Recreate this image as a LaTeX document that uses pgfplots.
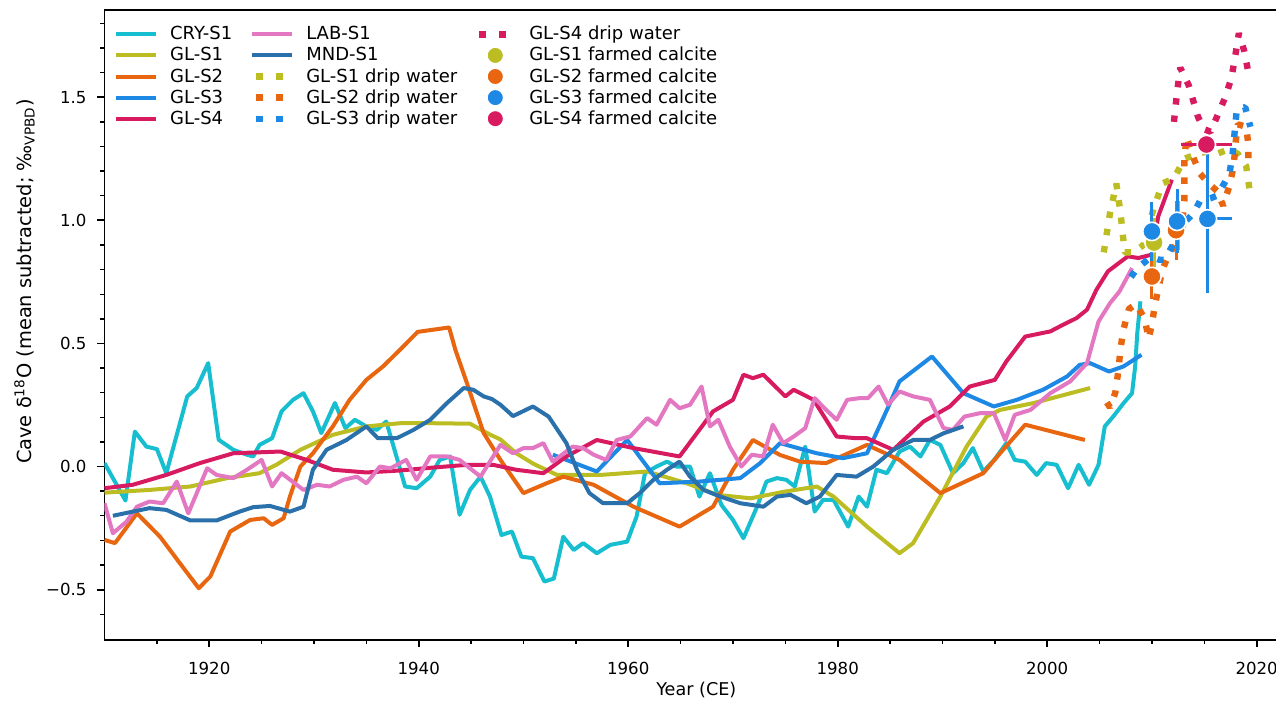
\documentclass[border=0pt]{standalone}
\usepackage{fontspec}
\setmainfont{DejaVu Sans}
\usepackage{pgfplots}
\pgfplotsset{compat=1.18}
\definecolor{cry}{RGB}{23,190,207}
\definecolor{gla}{RGB}{188,189,34}
\definecolor{glb}{RGB}{232,102,16}
\definecolor{glc}{RGB}{30,136,229}
\definecolor{gld}{RGB}{216,27,96}
\definecolor{lab}{RGB}{227,119,194}
\definecolor{mnd}{RGB}{42,112,170}
\newcommand{\ff}{\fontsize{8.3}{10}\selectfont}
\newcommand{\lf}{\fontsize{9}{10}\selectfont}
\pgfplotsset{
  mylineleg/.style={legend image code/.code={\path[draw=none,fill=none] (0pt,-3pt) rectangle (27pt,3pt); \draw[#1] (0pt,0pt) -- (20pt,0pt);}},
  mydripleg/.style={legend image code/.code={\path[draw=none,fill=none] (0pt,-3pt) rectangle (27pt,3pt); \draw[#1, solid] (2pt,0pt) -- (5.2pt,0pt); \draw[#1, solid] (12pt,0pt) -- (15.2pt,0pt);}},
  mycalcleg/.style={legend image code/.code={\path[draw=none,fill=none] (0pt,-3pt) rectangle (27pt,3pt); \draw[#1, mark size=4.2pt] plot coordinates {(10pt,0pt)};}},
}
\begin{document}
\begin{tikzpicture}
\begin{axis}[
  name=ax, at={(0,0)}, anchor=south west,
  scale only axis, width=591.8pt, height=314.9pt,
  xmin=1910, xmax=2023, ymin=-0.7045, ymax=1.8537,
  tick pos=left, tick align=outside,
  axis line style={line width=0.9pt},
  major tick length=3.5pt, minor tick length=2pt,
  major tick style={line width=0.9pt, black},
  minor tick style={line width=0.7pt, black},
  xtick={1920,1940,1960,1980,2000,2020},
  xticklabels={1920,1940,1960,1980,2000,2020},
  minor xtick={1915,1920,...,2020},
  ytick={-0.5,0,0.5,1,1.5},
  yticklabels={−0.5,0.0,0.5,1.0,1.5},
  minor ytick={-0.6,-0.5,-0.4,-0.3,-0.2,-0.1,0,0.1,0.2,0.3,0.4,0.5,0.6,0.7,0.8,0.9,1.0,1.1,1.2,1.3,1.4,1.5,1.6,1.7,1.8},
  tick label style={font=\ff},
  xticklabel style={yshift=-4pt},
  yticklabel style={xshift=-2pt},
  xlabel={Year (CE)},
  ylabel={Cave δ\textsuperscript{18}O (mean subtracted; ‰\textsubscript{VPBD})},
  xlabel style={at={(axis description cs:0.5,-0.0794)}, anchor=center, font=\fontsize{8.8}{10}\selectfont},
  ylabel style={at={(axis description cs:-0.0676,0.569)}, anchor=center, font=\fontsize{9.7}{11}\selectfont},
  legend columns=5, transpose legend,
  legend cell align=left,
  legend style={draw=none, fill=none, font=\lf, inner xsep=0pt, inner ysep=0pt,
    nodes={inner sep=0pt, text depth=0.25em, text height=0.8em},
    at={(axis description cs:0.0078,0.979)}, anchor=north west,
    row sep=0.05pt,
    /tikz/every even column/.append style={column sep=9pt},
    /tikz/column 2/.append style={column sep=12pt},
    /tikz/column 4/.append style={column sep=19.5pt}},
]
% ---------- stalagmite records ----------
\addplot[cry, line width=2pt, line join=round, mylineleg] coordinates {
(1910.0,0.014)(1912.0,-0.138)(1912.9,0.142)(1914.0,0.081)(1915.0,0.071)(1915.9,-0.027)(1917.9,0.285)(1918.8,0.319)(1919.9,0.42)(1920.9,0.109)(1922.3,0.068)(1923.6,0.048)(1924.2,0.041)(1924.8,0.088)(1926.0,0.115)(1926.9,0.224)(1928.0,0.271)(1929.0,0.298)(1929.9,0.224)(1930.7,0.136)(1932.0,0.258)(1933.0,0.156)(1933.9,0.19)(1935.0,0.163)(1936.0,0.149)(1936.9,0.183)(1937.6,0.081)(1938.7,-0.081)(1939.8,-0.088)(1941.1,-0.041)(1942.0,0.027)(1943.0,0.041)(1943.9,-0.196)(1944.9,-0.095)(1945.9,-0.041)(1946.8,-0.122)(1947.9,-0.278)(1948.9,-0.264)(1949.8,-0.366)(1950.9,-0.372)(1952.0,-0.467)(1952.9,-0.455)(1953.8,-0.285)(1954.8,-0.339)(1955.7,-0.311)(1957.0,-0.352)(1958.3,-0.318)(1959.9,-0.305)(1960.8,-0.203)(1961.6,-0.027)(1962.7,0.0)(1963.7,0.02)(1964.6,0.0)(1965.9,0.0)(1966.8,-0.122)(1967.8,-0.027)(1968.9,-0.156)(1970.0,-0.217)(1971.0,-0.291)(1972.3,-0.163)(1973.2,-0.061)(1974.2,-0.047)(1975.1,-0.054)(1975.9,-0.081)(1976.9,0.081)(1977.8,-0.183)(1978.6,-0.135)(1979.6,-0.135)(1981.0,-0.244)(1982.0,-0.122)(1982.8,-0.163)(1983.7,-0.013)(1984.7,-0.027)(1985.9,0.061)(1986.9,0.081)(1987.9,0.041)(1988.8,0.108)(1989.8,0.088)(1991.0,-0.027)(1992.0,0.014)(1992.9,0.075)(1993.9,-0.02)(1995.0,0.03)(1996.1,0.095)(1996.9,0.027)(1997.9,0.02)(1999.0,-0.034)(1999.9,0.014)(2000.9,0.007)(2002.0,-0.088)(2003.0,0.007)(2004.0,-0.074)(2004.9,0.007)(2005.5,0.163)(2006.3,0.203)(2007.3,0.258)(2008.1,0.298)(2008.4,0.407)(2008.6,0.542)(2008.9,0.671)
};
\addlegendentry{CRY-S1}
\addplot[gla, line width=2pt, line join=round, mylineleg] coordinates {
(1910,-0.106)(1914.3,-0.095)(1918.2,-0.081)(1921.7,-0.047)(1924.8,-0.027)(1926.4,0.007)(1928.7,0.068)(1931.8,0.129)(1935.0,0.163)(1938.2,0.176)(1941.4,0.176)(1944.9,0.174)(1946.8,0.13)(1947.8,0.11)(1949.3,0.054)(1951.0,0.01)(1953.2,-0.034)(1957.4,-0.034)(1961.8,-0.02)(1965.6,-0.068)(1968.5,-0.115)(1971.7,-0.129)(1974.9,-0.102)(1978.0,-0.081)(1979.6,-0.122)(1982.8,-0.244)(1985.9,-0.352)(1987.2,-0.311)(1989.8,-0.122)(1992.3,0.081)(1994.2,0.203)(1995.5,0.23)(1998.7,0.258)(2004.1,0.319)
};
\addlegendentry{GL-S1}
\addplot[glb, line width=2pt, line join=round, mylineleg] coordinates {
(1910,-0.298)(1911,-0.311)(1913.1,-0.19)(1915.3,-0.285)(1917.2,-0.393)(1919.0,-0.494)(1920.1,-0.447)(1922.0,-0.264)(1923.9,-0.217)(1925.2,-0.21)(1926.0,-0.237)(1927.1,-0.21)(1927.7,-0.122)(1928.7,0.0)(1929.9,0.054)(1931.8,0.163)(1933.4,0.271)(1935.0,0.352)(1936.6,0.407)(1938.2,0.474)(1939.9,0.547)(1942.9,0.565)(1943.5,0.474)(1944.6,0.339)(1946.2,0.136)(1947.8,0.027)(1950.0,-0.108)(1952.2,-0.068)(1953.8,-0.041)(1956.7,-0.074)(1960.5,-0.163)(1964.9,-0.244)(1968.1,-0.163)(1970.0,-0.013)(1971.9,0.108)(1974.5,0.047)(1976.4,0.02)(1978.9,0.014)(1982.8,0.088)(1985.9,0.027)(1989.8,-0.108)(1993.9,-0.027)(1995.5,0.054)(1997.9,0.17)(2003.6,0.108)
};
\addlegendentry{GL-S2}
\addplot[glc, line width=2pt, line join=round, mylineleg] coordinates {
(1952.8,0.048)(1954.1,0.027)(1957.0,-0.02)(1959.9,0.108)(1963.0,-0.068)(1966.8,-0.061)(1970.7,-0.047)(1972.6,0.014)(1974.5,0.095)(1978.0,0.054)(1980.5,0.034)(1982.8,0.054)(1984.7,0.23)(1985.9,0.346)(1989.0,0.447)(1992.0,0.298)(1994.9,0.244)(1997.1,0.271)(1999.6,0.312)(2001.9,0.366)(2003.1,0.413)(2004.1,0.42)(2005.9,0.386)(2007.3,0.407)(2009.0,0.454)
};
\addlegendentry{GL-S3}
\addplot[gld, line width=2pt, line join=round, mylineleg] coordinates {
(1910,-0.088)(1912.7,-0.074)(1915.9,-0.034)(1919.1,0.014)(1922.3,0.054)(1926.8,0.061)(1929.3,0.027)(1931.8,-0.013)(1935.0,-0.024)(1938.2,-0.016)(1941.4,-0.004)(1944.6,0.007)(1947.1,0.007)(1949.3,-0.013)(1951.9,-0.027)(1954.1,0.041)(1957.0,0.108)(1960.5,0.075)(1964.9,0.041)(1968.1,0.224)(1970.0,0.271)(1971.0,0.373)(1971.9,0.359)(1972.9,0.373)(1975.0,0.285)(1975.8,0.312)(1977.7,0.271)(1979.9,0.122)(1981.8,0.115)(1982.8,0.115)(1985.3,0.068)(1988.2,0.183)(1990.7,0.244)(1992.6,0.325)(1995.0,0.352)(1996.1,0.427)(1997.9,0.528)(2000.3,0.549)(2001.2,0.569)(2002.8,0.603)(2003.8,0.637)(2004.7,0.718)(2005.8,0.793)(2007.7,0.854)(2008.7,0.847)(2010.0,0.861)(2010.6,1.016)(2011.9,1.165)
};
\addlegendentry{GL-S4}
\addplot[lab, line width=2pt, line join=round, mylineleg] coordinates {
(1910,-0.149)(1910.8,-0.271)(1912.1,-0.224)(1913.1,-0.163)(1914.3,-0.142)(1915.6,-0.149)(1916.9,-0.061)(1918.0,-0.19)(1919.8,-0.007)(1920.7,-0.034)(1922.3,-0.047)(1923.6,-0.013)(1925.0,0.027)(1926.0,-0.081)(1926.9,-0.027)(1929.0,-0.095)(1930.3,-0.074)(1931.5,-0.081)(1932.8,-0.054)(1934.1,-0.041)(1935.0,-0.068)(1936.3,0.0)(1937.3,-0.007)(1938.8,0.027)(1939.8,-0.054)(1941.1,0.041)(1942.7,0.041)(1943.9,0.027)(1945.9,-0.041)(1947.8,0.088)(1949.0,0.054)(1950.0,0.075)(1950.9,0.075)(1951.9,0.095)(1952.8,0.02)(1954.7,0.081)(1955.7,0.075)(1956.7,0.048)(1957.9,0.027)(1958.9,0.108)(1960.2,0.122)(1961.8,0.197)(1962.7,0.17)(1964.0,0.271)(1964.9,0.237)(1965.9,0.251)(1967.0,0.325)(1967.8,0.163)(1968.6,0.19)(1969.7,0.081)(1970.8,0.0)(1971.8,0.048)(1972.9,0.041)(1973.8,0.17)(1974.8,0.095)(1975.8,0.122)(1976.9,0.156)(1977.8,0.278)(1978.9,0.23)(1979.9,0.19)(1980.9,0.271)(1982.1,0.278)(1982.9,0.278)(1983.9,0.325)(1984.8,0.251)(1985.9,0.305)(1987.2,0.285)(1988.8,0.271)(1990.1,0.156)(1991.0,0.149)(1992.1,0.203)(1993.6,0.217)(1994.9,0.217)(1996.0,0.108)(1996.9,0.21)(1998.4,0.23)(2000.3,0.298)(2002.2,0.346)(2003.8,0.42)(2004.9,0.589)(2006.0,0.664)(2006.9,0.711)(2008.1,0.806)
};
\addlegendentry{LAB-S1}
\addplot[mnd, line width=2pt, line join=round, mylineleg] coordinates {
(1910.8,-0.2)(1912.7,-0.183)(1914.3,-0.169)(1915.9,-0.176)(1918.2,-0.219)(1920.7,-0.219)(1922.9,-0.183)(1924.2,-0.165)(1925.8,-0.16)(1927.7,-0.183)(1929.0,-0.163)(1929.9,-0.013)(1931.2,0.068)(1933.1,0.108)(1935.0,0.163)(1936.1,0.115)(1937.9,0.115)(1939.5,0.149)(1941.1,0.19)(1942.7,0.258)(1944.3,0.319)(1945.2,0.312)(1946.2,0.285)(1947.0,0.274)(1947.8,0.251)(1949.0,0.205)(1950.9,0.244)(1952.4,0.203)(1954.1,0.095)(1955.1,-0.013)(1956.3,-0.108)(1957.6,-0.149)(1959.9,-0.149)(1961.1,-0.108)(1962.4,-0.054)(1963.7,-0.013)(1964.9,0.02)(1965.9,-0.041)(1967.2,-0.095)(1968.8,-0.122)(1970.7,-0.149)(1972.9,-0.163)(1974.2,-0.122)(1975.5,-0.115)(1977.0,-0.149)(1978.3,-0.122)(1979.9,-0.034)(1981.8,-0.041)(1983.4,0.0)(1985.3,0.068)(1987.2,0.108)(1988.8,0.108)(1990.1,0.135)(1992.0,0.163)
};
\addlegendentry{MND-S1}
% ---------- drip water ----------
\addplot[gla, line width=3.2pt, line cap=butt, line join=bevel, dash pattern=on 3.2pt off 5.5pt, mydripleg] coordinates {
(2005.4,0.87)(2006.0,1.03)(2006.6,1.15)(2007.0,1.03)(2007.4,0.87)(2008.2,0.87)(2009.2,0.9)(2010.1,1.04)(2011.0,1.15)(2012.1,1.17)(2013.1,1.25)(2014.3,1.27)(2015.3,1.28)(2016.2,1.27)(2017.4,1.29)(2018.2,1.27)(2019.0,1.22)(2019.4,1.10)
};
\addlegendentry{GL-S1 drip water}
\addplot[glb, line width=3.2pt, line cap=butt, line join=bevel, dash pattern=on 3.2pt off 5.5pt, mydripleg] coordinates {
(2005.7,0.26)(2006.0,0.24)(2006.5,0.3)(2006.8,0.39)(2007.0,0.48)(2007.3,0.56)(2007.8,0.64)(2008.5,0.66)(2009.3,0.6)(2009.7,0.52)(2010.0,0.58)(2010.3,0.66)(2010.6,0.72)(2011.0,0.8)(2011.6,0.86)(2012.2,0.9)(2012.8,0.95)(2013.1,1.08)(2013.1,1.16)(2013.1,1.25)(2013.3,1.34)(2014.0,1.25)(2014.6,1.19)(2015.4,1.15)(2016.2,1.12)(2016.8,1.06)(2017.4,1.14)(2017.8,1.22)(2018.0,1.32)(2018.2,1.39)(2019.0,1.38)(2019.2,1.31)(2019.2,1.22)
};
\addlegendentry{GL-S2 drip water}
\addplot[glc, line width=3.2pt, line cap=butt, line join=bevel, dash pattern=on 3.2pt off 5.5pt, mydripleg] coordinates {
(2008.0,0.77)(2008.5,0.8)(2009.0,0.82)(2009.6,0.84)(2010.1,0.85)(2010.7,0.84)(2011.2,0.84)(2011.6,0.87)(2012.0,0.9)(2012.6,0.96)(2013.3,1.0)(2014.0,1.03)(2014.6,1.08)(2015.6,1.09)(2016.2,1.1)(2016.9,1.15)(2017.4,1.19)(2017.7,1.27)(2017.9,1.36)(2018.1,1.45)(2018.9,1.46)(2019.4,1.38)
};
\addlegendentry{GL-S3 drip water}
\addplot[gld, line width=3.2pt, line cap=butt, line join=bevel, dash pattern=on 3.2pt off 5.5pt, mydripleg] coordinates {
(2012.1,1.40)(2012.4,1.52)(2012.7,1.62)(2013.5,1.55)(2014.4,1.42)(2015.0,1.37)(2015.6,1.36)(2016.2,1.42)(2017.0,1.50)(2017.6,1.58)(2018.0,1.68)(2018.3,1.76)(2018.8,1.69)(2019.3,1.58)
};
\addlegendentry{GL-S4 drip water}
% ---------- farmed calcite ----------
\addplot[gla, only marks, mark=*, mark size=4.6pt, mark options={fill=gla, draw=white, line width=0.8pt}, mycalcleg,
  error bars/.cd, x dir=both, x explicit, y dir=both, y explicit, error mark=none, error bar style={line width=1.5pt}]
  coordinates {(2010.2,0.91) +- (0.4,0.1) (2012.5,0.98) +- (0.5,0.1)};
\addlegendentry{GL-S1 farmed calcite}
\addplot[glb, only marks, mark=*, mark size=4.6pt, mark options={fill=glb, draw=white, line width=0.8pt}, mycalcleg,
  error bars/.cd, x dir=both, x explicit, y dir=both, y explicit, error mark=none, error bar style={line width=1.5pt}]
  coordinates {(2010.0,0.772) +- (0.3,0.09) (2012.3,0.96) +- (0.5,0.12)};
\addlegendentry{GL-S2 farmed calcite}
\addplot[glc, only marks, mark=*, mark size=4.6pt, mark options={fill=glc, draw=white, line width=0.8pt}, mycalcleg,
  error bars/.cd, x dir=both, x explicit, y dir=both, y explicit, error mark=none, error bar style={line width=1.5pt}]
  coordinates {(2010.0,0.955) +- (0.4,0.12) (2012.4,0.996) +- (0.3,0.13) (2015.3,1.006) += (2.35,0.27) -= (0.5,0.3)};
\addlegendentry{GL-S3 farmed calcite}
\addplot[gld, only marks, mark=*, mark size=4.6pt, mark options={fill=gld, draw=white, line width=0.8pt}, mycalcleg,
  error bars/.cd, x dir=both, x explicit, y dir=both, y explicit, error mark=none, error bar style={line width=1.5pt}]
  coordinates {(2015.2,1.308) +- (2.45,0.03)};
\addlegendentry{GL-S4 farmed calcite}
\end{axis}
\pgfresetboundingbox
\path (ax.south west) ++(-52.25pt,-30.5pt) rectangle ++(638pt,350.5pt);
\end{tikzpicture}
\end{document}
